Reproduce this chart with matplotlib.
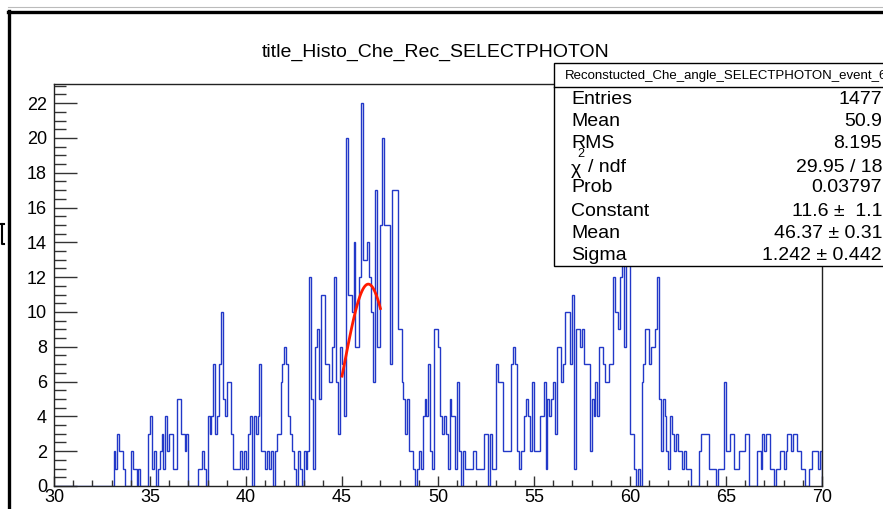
import numpy as np
import matplotlib.pyplot as plt
from matplotlib.lines import Line2D
from matplotlib.patches import Rectangle

# histogram binning: 400 bins of 0.1 between 30 and 70
x_lo, x_hi, n_bins = 30.0, 70.0, 400

# reconstructed Cherenkov angle counts, one row per unit of angle (30 ... 69)
counts = [
    0, 0, 0, 0, 0, 0, 0, 0, 0, 0,
    0, 0, 0, 0, 0, 0, 0, 0, 0, 0,
    0, 0, 0, 0, 0, 0, 0, 0, 0, 0,
    0, 2, 1, 3, 2, 2, 1, 0, 0, 0,
    2, 1, 1, 0, 1, 0, 0, 0, 0, 3,
    4, 1, 2, 0, 1, 2, 3, 1, 4, 2,
    3, 3, 1, 1, 5, 5, 3, 3, 2, 3,
    0, 0, 0, 0, 0, 1, 1, 2, 1, 0,
    4, 3, 4, 7, 3, 4, 7, 10, 5, 4,
    6, 6, 3, 1, 1, 1, 1, 2, 1, 2,
    1, 3, 4, 0, 4, 3, 4, 7, 2, 2,
    1, 2, 1, 2, 0, 2, 3, 3, 6, 7,
    8, 7, 4, 3, 2, 1, 0, 2, 1, 0,
    2, 1, 2, 12, 5, 1, 8, 9, 5, 11,
    11, 7, 7, 6, 6, 8, 12, 6, 3, 8,
    7, 4, 20, 11, 11, 10, 14, 8, 8, 12,
    22, 13, 13, 14, 12, 10, 6, 17, 8, 8,
    15, 20, 15, 15, 15, 7, 17, 17, 17, 9,
    9, 6, 5, 3, 5, 2, 2, 1, 0, 1,
    2, 1, 4, 5, 4, 7, 2, 1, 9, 9,
    8, 4, 3, 4, 3, 1, 5, 4, 4, 1,
    6, 2, 0, 2, 1, 1, 1, 1, 2, 2,
    1, 1, 1, 1, 3, 3, 0, 3, 1, 1,
    7, 6, 6, 6, 2, 2, 2, 2, 7, 8,
    7, 2, 1, 2, 2, 4, 5, 4, 2, 6,
    2, 2, 2, 4, 4, 6, 1, 5, 4, 5,
    6, 3, 8, 8, 6, 7, 10, 10, 10, 7,
    11, 1, 9, 9, 8, 9, 7, 7, 7, 2,
    5, 4, 6, 4, 8, 8, 7, 6, 6, 7,
    7, 12, 10, 10, 9, 12, 13, 8, 14, 14,
    3, 3, 1, 0, 1, 0, 6, 7, 9, 9,
    7, 8, 8, 9, 12, 5, 2, 5, 4, 2,
    1, 4, 3, 2, 3, 2, 2, 1, 2, 1,
    1, 1, 0, 0, 0, 0, 2, 3, 3, 3,
    3, 1, 1, 1, 1, 0, 1, 1, 1, 6,
    2, 2, 3, 3, 1, 1, 1, 2, 2, 2,
    3, 3, 0, 0, 0, 0, 2, 2, 1, 3,
    2, 3, 3, 1, 1, 0, 1, 1, 2, 2,
    1, 2, 3, 3, 2, 3, 3, 2, 2, 1,
    1, 0, 0, 1, 1, 2, 2, 2, 1, 2,
]

# gaussian fit result
fit_const, fit_mean, fit_sigma = 11.6, 46.37, 1.242
fit_lo, fit_hi = 45.0, 47.0

title = "title_Histo_Che_Rec_SELECTPHOTON"
stats_name = "Reconstucted_Che_angle_SELECTPHOTON_event_609"
stats_labels = ["Entries", "Mean", "RMS", None, "Prob", "Constant", "Mean", "Sigma"]
stats_values = ["1477", "50.9", "8.195", "29.95 / 18", "0.03797",
                "11.6 \u00b1  1.1", "46.37 \u00b1 0.31", "1.242 \u00b1 0.442"]

W, H = 883, 509


def fx(x):
    return x / W


def fy(y):
    return 1 - y / H


plt.rcParams['font.family'] = ['Liberation Sans', 'DejaVu Sans']
fig = plt.figure(figsize=(W / 100, H / 100), dpi=100)

ax = fig.add_axes([fx(54), fy(486), (822 - 54) / W, (486 - 84) / H])
edges = np.linspace(x_lo, x_hi, n_bins + 1)
ax.stairs(counts, edges, color='#2238c8', lw=1.0)

xf = np.linspace(fit_lo, fit_hi, 120)
yf = fit_const * np.exp(-0.5 * ((xf - fit_mean) / fit_sigma) ** 2)
ax.plot(xf, yf, color='#ff1a00', lw=2.0)

ax.set_xlim(x_lo, x_hi)
ax.set_ylim(0, 23.1)
ax.set_xticks(np.arange(30, 71, 5))
ax.set_xticks(np.arange(30, 71, 1), minor=True)
ax.set_yticks(np.arange(0, 23, 2))
ax.set_yticks(np.arange(0, 23.1, 0.5), minor=True)
ax.tick_params(axis='both', which='both', direction='in', top=False, right=False,
               width=1.0, color='#333333', labelsize=13)
ax.tick_params(axis='y', which='major', length=16.5, pad=5)
ax.tick_params(axis='y', which='minor', length=8.5)
ax.tick_params(axis='x', which='major', length=7.5, pad=2)
ax.tick_params(axis='x', which='minor', length=4.5)
for s in ax.spines.values():
    s.set_linewidth(1.0)
    s.set_color('#222222')

fig.text(fx(436), fy(52), title, ha='center', va='center', fontsize=14)

# statistics box
box = Rectangle((fx(554), fy(266)), fx(900) - fx(554), fy(63) - fy(266),
                transform=fig.transFigure, facecolor='white', edgecolor='black',
                lw=1.0, zorder=5)
fig.patches.append(box)
fig.add_artist(Line2D([fx(554), 1.0], [fy(87), fy(87)], color='black', lw=1.0, zorder=6))
fig.text(fx(565), fy(76), stats_name, ha='left', va='center', fontsize=9.5, zorder=7)

row_y = [100, 122, 144, 167, 188, 211, 233, 256]
for lab, val, y in zip(stats_labels, stats_values, row_y):
    if lab is not None:
        fig.text(fx(571), fy(y), lab, ha='left', va='center', fontsize=14, zorder=7)
    fig.text(fx(882), fy(y), val, ha='right', va='center', fontsize=14, zorder=7)
# chi2 / ndf label, drawn in pieces
fig.text(fx(571), fy(170), "\u03c7", ha='left', va='center', fontsize=14, zorder=7)
fig.text(fx(577), fy(154), "2", ha='left', va='center', fontsize=9, zorder=7)
fig.text(fx(588), fy(167), "/ ndf", ha='left', va='center', fontsize=14, zorder=7)

# window edges around the canvas
fig.add_artist(Line2D([fx(8), 1.0], [fy(6.5), fy(6.5)], color='#bbbbbb', lw=0.8))
fig.add_artist(Line2D([fx(8), 1.0], [fy(11.5), fy(11.5)], color='black', lw=2.4))
fig.add_artist(Line2D([fx(9), fx(9)], [fy(10.5), 0.0], color='black', lw=2.4))
fig.add_artist(Line2D([fx(2), fx(2), fx(4)], [fy(224), fy(244), fy(244)], color='black', lw=1.5))
fig.add_artist(Line2D([fx(0), fx(4)], [fy(224), fy(224)], color='black', lw=1.5))

fig.savefig('out.png', dpi=100)
